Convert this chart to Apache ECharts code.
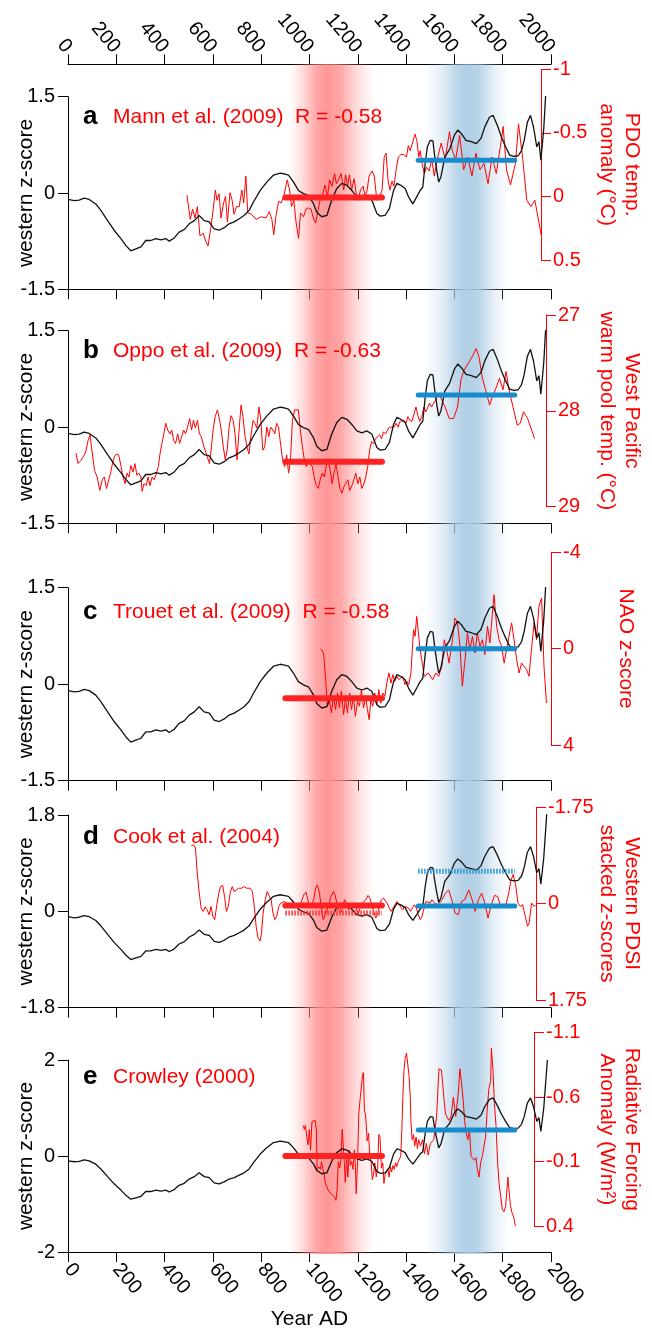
<!DOCTYPE html>
<html>
<head>
<meta charset="utf-8">
<script src="https://cdn.jsdelivr.net/npm/echarts@6/dist/echarts.min.js"></script>
<style>
html, body { margin: 0; padding: 0; background: #fff; }
#main { width: 652px; height: 1331px; }
</style>
</head>
<body>
<div id="main"></div>
<script>
// western z-score composite (same curve in every panel)
var western = [[0,-0.10],[26,-0.12],[46,-0.11],[67,-0.08],[88,-0.10],[115,-0.17],[136,-0.27],[164,-0.43],[191,-0.58],[219,-0.71],[240,-0.82],[260,-0.90],[281,-0.87],[302,-0.84],[322,-0.74],[343,-0.74],[364,-0.71],[385,-0.73],[405,-0.71],[419,-0.75],[440,-0.70],[460,-0.61],[481,-0.57],[502,-0.48],[523,-0.43],[543,-0.35],[564,-0.43],[585,-0.45],[605,-0.56],[626,-0.58],[647,-0.54],[667,-0.48],[688,-0.45],[709,-0.40],[729,-0.35],[750,-0.27],[768,-0.14],[796,0.04],[823,0.17],[851,0.28],[879,0.31],[892,0.30],[913,0.28],[934,0.17],[954,0.04],[975,-0.01],[996,-0.04],[1017,-0.17],[1030,-0.30],[1051,-0.37],[1072,-0.35],[1092,-0.11],[1113,0.07],[1134,0.15],[1155,0.12],[1175,0.04],[1196,-0.06],[1217,-0.09],[1237,-0.06],[1258,-0.11],[1279,-0.32],[1293,-0.36],[1313,-0.35],[1331,-0.24],[1348,0.04],[1362,0.15],[1378,0.12],[1396,0.07],[1410,-0.06],[1428,-0.17],[1444,-0.06],[1458,0.04],[1469,0.09],[1479,0.46],[1488,0.72],[1500,0.82],[1511,0.81],[1519,0.56],[1527,0.35],[1535,0.17],[1544,0.25],[1552,0.40],[1560,0.56],[1580,0.68],[1600,0.90],[1614,0.98],[1630,0.92],[1648,0.82],[1670,0.80],[1691,0.77],[1710,0.85],[1726,1.03],[1745,1.18],[1760,1.21],[1778,1.05],[1795,0.87],[1812,0.72],[1829,0.59],[1846,0.57],[1864,0.58],[1878,0.66],[1889,0.82],[1902,1.10],[1915,1.21],[1928,1.02],[1941,0.72],[1950,0.80],[1958,0.51],[1970,1.00],[1985,2.00]];

// a: PDO temp. anomaly (°C)
var mann = [[503,-0.01],[517,0.18],[527,0.10],[537,0.17],[547,0.08],[558,0.31],[572,0.29],[582,0.35],[592,0.39],[603,0.26],[614,0.10],[623,-0.05],[630,0.03],[639,-0.02],[647,0.17],[658,0.05],[666,0.00],[674,0.20],[685,-0.03],[694,0.03],[702,0.14],[713,0.08],[724,0.08],[735,-0.05],[743,0.05],[752,-0.16],[760,0.13],[775,0.14],[796,0.18],[817,0.16],[837,0.17],[851,0.12],[862,0.18],[870,0.30],[879,0.16],[890,0.04],[901,0.05],[912,0.00],[927,-0.13],[937,-0.05],[945,0.08],[955,0.03],[964,0.20],[975,0.33],[983,0.13],[996,0.16],[1006,0.10],[1017,0.09],[1028,0.10],[1037,0.17],[1047,0.21],[1055,0.13],[1066,0.03],[1075,0.00],[1086,-0.09],[1097,0.00],[1106,-0.13],[1116,-0.08],[1127,-0.18],[1135,-0.10],[1144,-0.13],[1155,-0.18],[1166,-0.05],[1174,-0.17],[1182,-0.08],[1190,-0.17],[1199,-0.05],[1210,-0.14],[1218,-0.03],[1226,0.03],[1237,-0.05],[1248,-0.08],[1256,0.00],[1265,-0.05],[1273,-0.16],[1286,-0.20],[1295,-0.16],[1306,0.03],[1317,0.00],[1328,-0.05],[1337,-0.31],[1345,-0.34],[1353,-0.13],[1361,-0.05],[1370,-0.12],[1378,-0.08],[1389,-0.23],[1397,-0.31],[1408,-0.33],[1420,-0.33],[1431,-0.31],[1439,-0.40],[1447,-0.36],[1458,-0.43],[1467,-0.49],[1475,-0.44],[1483,-0.31],[1489,-0.36],[1497,-0.26],[1507,-0.18],[1516,-0.23],[1527,-0.20],[1538,-0.29],[1549,-0.16],[1561,-0.29],[1578,-0.42],[1595,-0.29],[1613,-0.51],[1625,-0.36],[1639,-0.29],[1656,-0.48],[1673,-0.21],[1690,-0.31],[1708,-0.16],[1725,-0.34],[1742,-0.21],[1759,-0.26],[1776,-0.10],[1793,-0.31],[1811,-0.18],[1828,-0.39],[1840,-0.55],[1854,-0.21],[1871,-0.09],[1892,-0.26],[1905,-0.57],[1923,-0.29],[1940,0.03],[1957,0.08],[1974,0.03],[1992,0.21],[2000,0.30]];

// b: West Pacific warm pool temp. (°C)
var oppo = [[33,28.44],[42,28.55],[53,28.52],[64,28.48],[74,28.43],[84,28.31],[92,28.25],[102,28.45],[111,28.62],[122,28.69],[133,28.83],[143,28.72],[152,28.69],[161,28.81],[169,28.83],[178,28.65],[186,28.55],[194,28.48],[203,28.45],[212,28.46],[222,28.58],[230,28.69],[239,28.76],[247,28.65],[255,28.69],[263,28.57],[272,28.64],[280,28.55],[288,28.67],[297,28.65],[305,28.69],[310,28.84],[318,28.76],[327,28.78],[335,28.69],[343,28.78],[352,28.69],[360,28.72],[368,28.67],[378,28.58],[385,28.45],[393,28.34],[401,28.24],[409,28.13],[417,28.20],[426,28.24],[434,28.20],[442,28.31],[450,28.34],[459,28.24],[467,28.34],[475,28.36],[484,28.20],[492,28.24],[500,28.17],[509,28.08],[517,28.20],[525,28.10],[533,28.18],[542,28.10],[550,28.24],[558,28.27],[567,28.36],[575,28.38],[583,28.48],[592,28.55],[600,28.38],[608,28.18],[616,28.06],[625,27.99],[633,28.08],[641,28.20],[650,28.38],[658,28.51],[666,28.41],[674,28.17],[682,28.05],[691,28.10],[699,28.24],[707,28.51],[716,28.20],[724,27.94],[732,28.06],[741,28.27],[749,28.38],[757,28.45],[765,28.27],[774,28.10],[782,28.13],[790,28.18],[799,27.96],[807,28.10],[815,28.41],[823,28.38],[832,28.17],[840,28.27],[848,28.17],[857,28.20],[865,28.24],[873,28.13],[881,28.17],[890,28.36],[898,28.51],[906,28.58],[915,28.46],[923,28.65],[931,28.51],[939,28.10],[948,27.99],[956,27.98],[964,27.99],[972,28.20],[981,28.38],[989,28.51],[997,28.58],[1006,28.53],[1014,28.51],[1022,28.58],[1030,28.69],[1039,28.78],[1047,28.81],[1055,28.72],[1064,28.65],[1072,28.69],[1080,28.58],[1088,28.50],[1097,28.62],[1105,28.76],[1113,28.65],[1121,28.55],[1130,28.69],[1138,28.81],[1146,28.86],[1155,28.79],[1163,28.78],[1171,28.72],[1179,28.83],[1188,28.78],[1196,28.72],[1204,28.65],[1213,28.76],[1221,28.69],[1229,28.81],[1238,28.76],[1246,28.69],[1254,28.58],[1262,28.41],[1270,28.32],[1279,28.34],[1287,28.29],[1295,28.31],[1304,28.25],[1312,28.29],[1320,28.22],[1329,28.24],[1337,28.20],[1345,28.17],[1353,28.18],[1364,28.17],[1373,28.13],[1381,28.17],[1389,28.11],[1397,28.13],[1406,28.10],[1414,28.13],[1422,28.06],[1430,28.10],[1439,28.11],[1447,28.10],[1456,27.96],[1464,28.05],[1472,28.11],[1480,28.06],[1489,27.96],[1497,28.01],[1505,27.99],[1513,27.92],[1521,27.96],[1530,27.92],[1538,27.89],[1546,27.85],[1555,27.84],[1561,27.82],[1578,27.96],[1595,28.08],[1613,28.08],[1630,27.96],[1644,27.68],[1656,27.58],[1673,27.51],[1690,27.44],[1708,27.35],[1720,27.44],[1733,27.65],[1747,27.78],[1764,27.94],[1776,27.85],[1793,27.75],[1805,27.66],[1820,27.78],[1833,27.59],[1845,27.78],[1862,27.96],[1880,28.15],[1892,28.13],[1906,28.01],[1923,28.08],[1940,28.20],[1952,28.29]];

// c: NAO z-score
var trouet = [[1047,0.00],[1058,0.18],[1066,1.15],[1074,2.39],[1083,2.19],[1091,2.67],[1099,1.98],[1108,2.53],[1116,1.84],[1124,2.46],[1132,1.77],[1141,2.74],[1149,2.05],[1157,2.67],[1166,1.84],[1174,2.53],[1182,1.98],[1190,2.81],[1199,2.19],[1207,2.39],[1215,1.70],[1224,2.46],[1232,1.98],[1240,2.53],[1247,2.95],[1254,2.12],[1262,2.39],[1270,1.84],[1279,2.32],[1287,1.70],[1295,2.26],[1304,1.84],[1312,1.98],[1320,1.43],[1329,1.01],[1337,1.43],[1345,1.08],[1353,1.36],[1362,1.15],[1370,1.29],[1378,1.36],[1386,1.15],[1395,1.49],[1403,1.36],[1411,1.49],[1420,1.01],[1425,0.18],[1431,-0.79],[1437,-0.51],[1444,-1.34],[1451,-0.65],[1458,0.04],[1467,0.60],[1475,1.15],[1492,1.01],[1510,1.29],[1523,1.01],[1535,1.15],[1548,0.73],[1558,-0.37],[1568,0.04],[1578,0.60],[1592,-0.37],[1602,-1.27],[1613,-1.07],[1623,-0.10],[1633,1.56],[1644,0.46],[1654,-0.65],[1664,0.04],[1675,-0.51],[1685,0.18],[1695,-0.65],[1706,-0.10],[1716,-0.37],[1726,0.25],[1737,-0.93],[1747,-0.24],[1757,-1.41],[1764,-2.24],[1775,-0.93],[1785,-0.37],[1795,-0.10],[1806,0.60],[1816,0.04],[1826,-0.51],[1837,-1.07],[1847,-0.37],[1858,0.46],[1868,1.01],[1878,0.60],[1888,0.73],[1899,0.87],[1909,1.15],[1919,0.04],[1930,-1.07],[1940,-0.37],[1950,-1.76],[1961,-2.10],[1971,0.73],[1981,2.26]];

// d: Western PDSI stacked z-scores
var cook = [[527,-1.05],[536,-1.07],[545,-1.01],[551,-0.62],[561,-0.19],[569,0.08],[578,0.14],[586,0.06],[594,0.11],[603,0.20],[611,0.05],[619,0.23],[627,0.29],[636,0.02],[644,-0.18],[652,-0.31],[661,-0.33],[669,-0.13],[677,0.14],[685,0.05],[694,-0.22],[702,-0.31],[710,-0.22],[718,-0.25],[729,-0.28],[741,-0.28],[752,-0.31],[763,-0.28],[771,-0.31],[779,-0.28],[788,-0.22],[796,0.05],[804,0.41],[812,0.62],[821,0.68],[827,0.53],[834,0.17],[843,-0.07],[851,-0.22],[859,-0.25],[868,-0.07],[876,0.17],[884,0.29],[892,0.23],[901,0.05],[909,-0.01],[917,0.02],[925,-0.04],[934,-0.01],[942,0.05],[950,0.08],[959,-0.01],[967,-0.01],[975,0.06],[983,0.08],[992,0.02],[1000,-0.07],[1008,-0.16],[1017,-0.21],[1025,-0.07],[1033,0.08],[1041,0.11],[1050,-0.07],[1058,-0.28],[1066,-0.34],[1075,-0.19],[1083,0.11],[1091,0.29],[1099,0.26],[1108,0.11],[1116,-0.01],[1124,-0.13],[1134,-0.22],[1141,-0.16],[1149,-0.01],[1157,0.11],[1166,0.17],[1174,0.05],[1182,-0.07],[1190,-0.01],[1199,0.11],[1207,0.14],[1215,0.02],[1224,-0.01],[1232,0.08],[1240,0.20],[1248,0.08],[1257,-0.01],[1265,0.02],[1273,-0.07],[1282,-0.15],[1290,-0.10],[1298,0.02],[1306,0.14],[1315,0.26],[1323,0.20],[1331,0.02],[1339,-0.07],[1348,-0.10],[1356,-0.07],[1364,-0.01],[1373,0.08],[1381,0.14],[1389,0.11],[1397,0.02],[1406,-0.04],[1414,-0.01],[1422,0.06],[1431,0.11],[1439,0.05],[1447,0.02],[1455,0.08],[1464,0.14],[1472,0.11],[1480,0.02],[1489,0.08],[1497,0.20],[1505,0.29],[1513,0.23],[1522,0.08],[1530,-0.04],[1538,-0.07],[1547,-0.01],[1555,-0.07],[1565,-0.02],[1578,0.02],[1595,-0.04],[1613,-0.19],[1627,-0.25],[1640,-0.07],[1654,0.17],[1668,0.20],[1682,-0.04],[1695,-0.07],[1713,-0.25],[1727,-0.07],[1740,0.14],[1754,-0.07],[1768,-0.19],[1781,-0.01],[1795,0.26],[1809,0.02],[1823,-0.15],[1836,-0.13],[1847,0.02],[1861,0.05],[1871,0.02],[1882,-0.16],[1892,-0.41],[1902,-0.53],[1913,-0.34],[1923,-0.01],[1933,0.05],[1943,0.02],[1954,0.23],[1964,0.41],[1971,0.35],[1981,-0.01],[1992,0.05],[1999,0.02]];

// e: Radiative forcing anomaly (W/m2)
var crowley = [[1010,-0.38],[1014,-0.35],[1019,-0.38],[1025,-0.29],[1030,-0.23],[1036,-0.35],[1041,-0.19],[1047,-0.41],[1052,-0.42],[1061,-0.42],[1066,-0.35],[1069,-0.04],[1076,-0.06],[1083,-0.04],[1088,-0.10],[1094,-0.04],[1099,-0.01],[1105,0.07],[1110,0.09],[1116,0.12],[1124,0.12],[1130,0.15],[1138,0.16],[1146,0.18],[1150,0.20],[1155,0.12],[1160,-0.10],[1166,-0.05],[1171,-0.11],[1177,-0.35],[1182,-0.36],[1186,-0.09],[1190,0.06],[1196,-0.14],[1201,0.02],[1207,-0.19],[1212,-0.07],[1218,-0.10],[1223,-0.04],[1229,-0.19],[1233,-0.09],[1237,0.15],[1243,-0.11],[1248,-0.47],[1254,-0.59],[1259,-0.60],[1264,-0.77],[1268,-0.79],[1272,-0.49],[1277,-0.47],[1284,-0.26],[1290,-0.32],[1295,-0.14],[1301,-0.10],[1306,0.04],[1312,-0.01],[1317,-0.09],[1323,0.02],[1329,-0.04],[1334,-0.31],[1339,-0.29],[1345,-0.05],[1351,-0.09],[1356,0.07],[1361,0.00],[1367,-0.01],[1373,-0.04],[1378,0.02],[1384,-0.06],[1389,-0.02],[1395,-0.07],[1400,-0.04],[1406,-0.09],[1411,-0.06],[1417,-0.10],[1422,-0.09],[1428,-0.14],[1433,-0.35],[1437,-0.60],[1442,-0.81],[1447,-0.90],[1453,-0.94],[1458,-0.93],[1464,-0.76],[1469,-0.60],[1472,-0.40],[1477,-0.27],[1483,-0.31],[1488,-0.22],[1494,-0.29],[1500,-0.20],[1505,-0.27],[1513,-0.22],[1522,-0.27],[1530,-0.16],[1538,-0.24],[1546,-0.15],[1555,-0.24],[1570,-0.27],[1582,-0.45],[1592,-0.82],[1603,-0.81],[1613,-0.60],[1620,-0.47],[1627,-0.46],[1634,-0.42],[1644,-0.45],[1654,-0.60],[1664,-0.45],[1675,-0.63],[1682,-0.82],[1689,-0.71],[1696,-0.58],[1702,-0.42],[1709,-0.32],[1716,-0.27],[1723,-0.35],[1730,-0.14],[1737,-0.15],[1744,-0.11],[1751,-0.13],[1757,-0.04],[1764,0.02],[1771,-0.09],[1778,-0.14],[1785,-0.13],[1792,-0.29],[1799,-0.50],[1806,-0.66],[1814,-0.73],[1817,-0.98],[1824,-0.81],[1830,-0.55],[1837,-0.38],[1844,-0.09],[1850,0.07],[1857,0.17],[1864,0.27],[1871,0.29],[1878,0.25],[1885,0.09],[1888,0.02],[1892,0.11],[1899,0.24],[1906,0.30],[1913,0.33],[1920,0.40]];

// period means (western z-score units) for MCA (900-1300) and LIA (1450-1850)
var mcaYears = [900, 1300];
var liaYears = [1450, 1850];
var mcaMeans = [-0.07, -0.54, -0.22, 0.11, 0.00];
var liaMeans = [0.51, 0.50, 0.55, 0.10, 0.54];
var cookDottedMeans = [-0.03, 0.75];  // dotted bars in panel d: [MCA, LIA]

var letters = ['a', 'b', 'c', 'd', 'e'];
var sources = ['Mann et al. (2009)  R = -0.58', 'Oppo et al. (2009)  R = -0.63', 'Trouet et al. (2009)  R = -0.58', 'Cook et al. (2004)', 'Crowley (2000)'];
var rightNames = ['PDO temp.\nanomaly (°C)', 'West Pacific\nwarm pool temp. (°C)', 'NAO z-score', 'Western PDSI\nstacked z-scores', 'Radiative Forcing\nAnomaly (W/m²)'];
var leftScale = [[-1.5, 1.5, 1.5], [-1.5, 1.5, 1.5], [-1.5, 1.5, 1.5], [-1.8, 1.8, 1.8], [-2, 2, 2]];
var rightScale = [[-1, 0.5, 0.5], [27, 29, 1], [-4, 4, 4], [-1.75, 1.75, 1.75], [-1.1, 0.4, 0.5]];
var redSeries = [mann, oppo, trouet, cook, crowley];

// layout (pixels)
var W = 652, H = 1331, X0 = 68, X1 = 551;
var leftBox = [[96.7, 289.3], [330.7, 523.3], [587.7, 780.7], [815, 1007.7], [1060, 1254]];
var rightBox = [[69.3, 260], [315, 506.7], [552.3, 745], [807.3, 1000], [1032.7, 1226]];
var titleTop = [104, 338, 599, 824, 1064];
var rightNameGap = [53, 48, 62, 58, 60];
var FONT = "'Liberation Sans', Arial, Helvetica, sans-serif";
var RED = '#ff0000';

function fmt(v) { return String(Math.round(v * 100) / 100); }

var chart = echarts.init(document.getElementById('main'));

var redGrad = { type: 'linear', x: 0, y: 0, x2: 1, y2: 0, colorStops: [
  { offset: 0, color: 'rgba(255,145,145,0)' },
  { offset: 0.15, color: 'rgba(255,145,145,0.3)' },
  { offset: 0.32, color: 'rgba(255,145,145,0.8)' },
  { offset: 0.45, color: 'rgba(255,145,145,0.95)' },
  { offset: 0.6, color: 'rgba(255,145,145,0.8)' },
  { offset: 0.8, color: 'rgba(255,145,145,0.3)' },
  { offset: 1, color: 'rgba(255,145,145,0)' }
] };
var blueGrad = { type: 'linear', x: 0, y: 0, x2: 1, y2: 0, colorStops: [
  { offset: 0, color: 'rgba(172,204,228,0)' },
  { offset: 0.2, color: 'rgba(172,204,228,0.3)' },
  { offset: 0.38, color: 'rgba(172,204,228,0.8)' },
  { offset: 0.5, color: 'rgba(172,204,228,0.95)' },
  { offset: 0.63, color: 'rgba(172,204,228,0.85)' },
  { offset: 0.82, color: 'rgba(172,204,228,0.3)' },
  { offset: 1, color: 'rgba(172,204,228,0)' }
] };

var grid = [{ left: X0, right: W - X1, top: 64.3, bottom: H - 1254 }];
var xAxis = [{
  gridIndex: 0, type: 'value', min: 0, max: 2000, interval: 200, position: 'top',
  axisLine: { onZero: false, lineStyle: { color: '#000', width: 1 } },
  axisTick: { length: 10, lineStyle: { color: '#000' } },
  axisLabel: { rotate: 50, margin: 14, fontSize: 20, color: '#000', fontFamily: FONT, formatter: fmt },
  splitLine: { show: false }
}];
var yAxis = [{ gridIndex: 0, type: 'value', min: 0, max: 1, show: false }];
var series = [{
  type: 'line', xAxisIndex: 0, yAxisIndex: 0, data: [[0, 0], [2000, 0]], symbol: 'none',
  lineStyle: { opacity: 0 }, silent: true, z: 0,
  markArea: { silent: true, data: [
    [{ xAxis: 916, itemStyle: { color: redGrad } }, { xAxis: 1269 }],
    [{ xAxis: 1475, itemStyle: { color: blueGrad } }, { xAxis: 1828 }]
  ] }
}];
var title = [];

function bar(ax, years, v, color, width, dashed) {
  return {
    type: 'line', xAxisIndex: ax, yAxisIndex: ax, data: [[years[0], v], [years[1], v]],
    symbol: 'none', silent: true, z: 5,
    lineStyle: { color: color, width: width, cap: dashed ? 'butt' : 'round', type: dashed ? [1.5, 1.5] : 'solid' }
  };
}

for (var i = 0; i < 5; i++) {
  var li = 1 + 2 * i, ri = 2 + 2 * i;
  var last = i === 4;
  grid.push({ left: X0, right: W - X1, top: leftBox[i][0], bottom: H - leftBox[i][1] });
  grid.push({ left: X0, right: W - X1, top: rightBox[i][0], bottom: H - rightBox[i][1] });

  xAxis.push({
    gridIndex: li, type: 'value', min: 0, max: 2000, interval: 200, position: 'bottom',
    axisLine: { onZero: false, lineStyle: { color: '#000', width: 1 } },
    axisTick: { length: 10, lineStyle: { color: '#000' } },
    axisLabel: { show: last, rotate: -50, margin: 14, fontSize: 20, color: '#000', fontFamily: FONT, formatter: fmt },
    name: last ? 'Year AD' : '', nameLocation: 'middle', nameGap: 57, nameMoveOverlap: false,
    nameTextStyle: { fontSize: 21, color: '#000', fontFamily: FONT },
    splitLine: { show: false }
  });
  xAxis.push({ gridIndex: ri, type: 'value', min: 0, max: 2000, show: false });

  yAxis.push({
    gridIndex: li, type: 'value', min: leftScale[i][0], max: leftScale[i][1], interval: leftScale[i][2],
    position: 'left',
    axisLine: { show: true, onZero: false, lineStyle: { color: '#000', width: 1 } },
    axisTick: { show: true, length: 10, lineStyle: { color: '#000' } },
    axisLabel: { fontSize: 20, margin: 13, color: '#000', fontFamily: FONT, formatter: fmt },
    name: 'western z-score', nameLocation: 'middle', nameGap: 31, nameMoveOverlap: false,
    nameTextStyle: { fontSize: 21, color: '#000', fontFamily: FONT },
    splitLine: { show: false }
  });
  yAxis.push({
    gridIndex: ri, type: 'value', min: rightScale[i][0], max: rightScale[i][1], interval: rightScale[i][2],
    inverse: true, position: 'right',
    axisLine: { show: true, onZero: false, lineStyle: { color: RED, width: 1 } },
    axisTick: { show: true, length: 10, lineStyle: { color: RED } },
    axisLabel: { fontSize: 20, margin: 12, color: RED, fontFamily: FONT, formatter: fmt },
    name: rightNames[i], nameLocation: 'middle', nameRotate: -90, nameGap: rightNameGap[i], nameMoveOverlap: false,
    nameTextStyle: { fontSize: 21, color: RED, fontFamily: FONT, lineHeight: 25 },
    splitLine: { show: false }
  });

  series.push({
    type: 'line', xAxisIndex: ri, yAxisIndex: ri, data: redSeries[i], symbol: 'none', silent: true,
    lineStyle: { color: RED, width: 1 }, z: 2
  });
  series.push({
    type: 'line', xAxisIndex: li, yAxisIndex: li, data: western, symbol: 'none', silent: true,
    lineStyle: { color: '#111', width: 1.3 }, z: 3
  });
  if (i === 3) {
    series.push(bar(li, mcaYears, cookDottedMeans[0], '#ff3333', 5, true));
    series.push(bar(li, liaYears, cookDottedMeans[1], '#2a96d4', 5, true));
  }
  series.push(bar(li, mcaYears, mcaMeans[i], '#ff2222', 6, false));
  series.push(bar(li, liaYears, liaMeans[i], '#168ccc', 5, false));

  title.push({
    left: 83, top: titleTop[i], padding: 0,
    text: '{l|' + letters[i] + '}{t|' + sources[i] + '}',
    textStyle: { rich: {
      l: { fontSize: 26, fontWeight: 'bold', color: '#000', fontFamily: FONT, width: 30 },
      t: { fontSize: 21, fontWeight: 'normal', color: RED, fontFamily: FONT }
    } }
  });
}

chart.setOption({
  animation: false,
  backgroundColor: '#fff',
  textStyle: { fontFamily: FONT },
  title: title,
  grid: grid,
  xAxis: xAxis,
  yAxis: yAxis,
  series: series
});
window.onresize = chart.resize;
</script>
</body>
</html>
